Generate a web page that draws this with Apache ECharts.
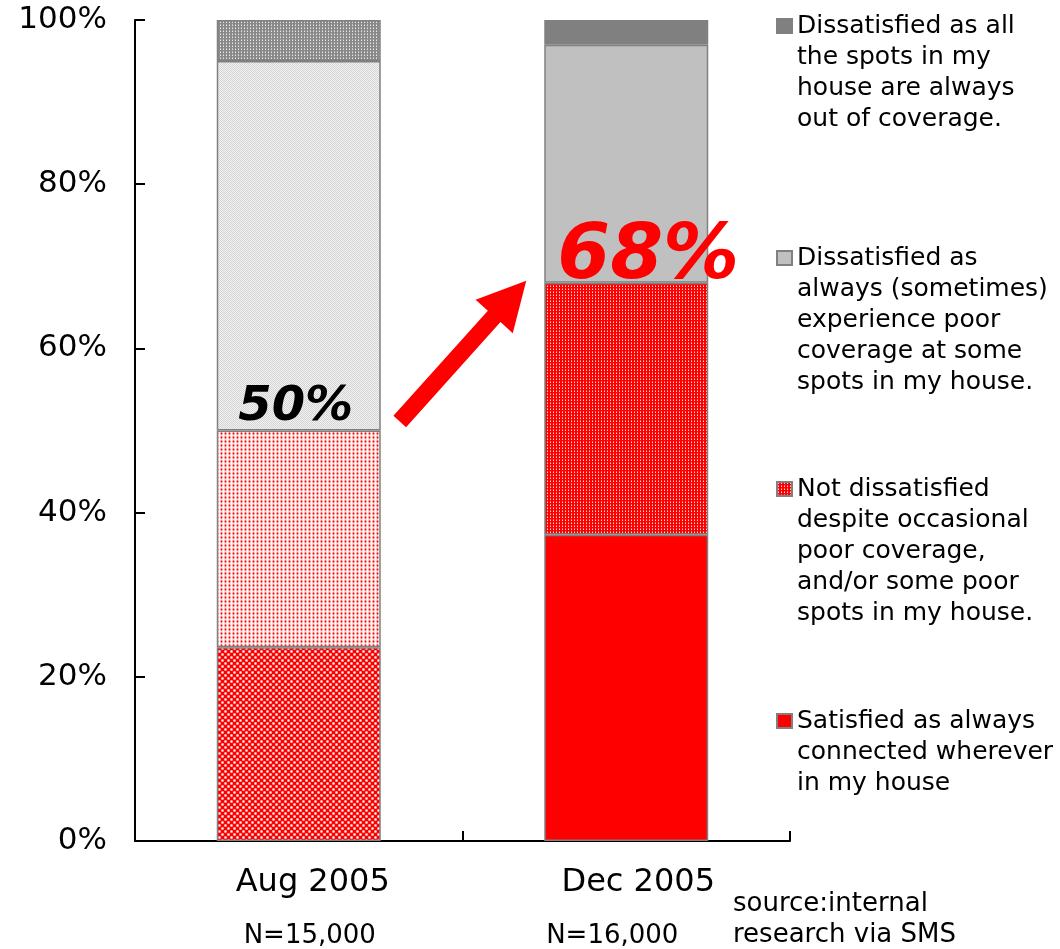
<!DOCTYPE html>
<html>
<head>
<meta charset="utf-8">
<script src="https://cdn.jsdelivr.net/npm/echarts@6/dist/echarts.min.js"></script>
<style>
  html, body { margin: 0; padding: 0; background: #ffffff; }
  #chart { width: 1060px; height: 949px; }
</style>
</head>
<body>
<div id="chart"></div>
<script>
// Survey periods and sample sizes
const periods = ['Aug 2005', 'Dec 2005'];
const sampleSizes = ['N=15,000', 'N=16,000'];

// Share of respondents (%), stacked bottom to top
const satisfied       = [23.6, 37.3];
const notDissatisfied = [26.4, 30.7];
const sometimesPoor   = [45.0, 29.0];
const alwaysOut       = [5.0, 3.0];

// Legend / series names
const nameSatisfied = 'Satisfied as always\nconnected wherever\nin my house';
const nameNotDiss   = 'Not dissatisfied\ndespite occasional\npoor coverage,\nand/or some poor\nspots in my house.';
const nameSometimes = 'Dissatisfied as\nalways (sometimes)\nexperience poor\ncoverage at some\nspots in my house.';
const nameAlwaysOut = 'Dissatisfied as all\nthe spots in my\nhouse are always\nout of coverage.';

const sourceNote = 'source:internal\nresearch via SMS';

const FONT = 'DejaVu Sans';

// Small repeating bitmap fills
function pattern(w, h, base, dots) {
  const c = document.createElement('canvas');
  c.width = w; c.height = h;
  const g = c.getContext('2d');
  g.fillStyle = base; g.fillRect(0, 0, w, h);
  dots.forEach(function (d) { g.fillStyle = d[2]; g.fillRect(d[0], d[1], 1, 1); });
  return { image: c, repeat: 'repeat' };
}

const fillDarkDots = pattern(3, 3, '#8a8a8a', [[1, 1, '#e8e8e8'], [1, 0, '#b4b4b4']]);
const fillLightCheck = pattern(2, 2, '#f2f2f2', [[0, 0, '#d4d4d4'], [1, 1, '#d4d4d4']]);
const fillPinkDots = pattern(4, 4, '#ffcccc', [
  [1, 1, '#ff0000'], [1, 0, '#ff6a6a'], [1, 2, '#ff7070'],
  [0, 1, '#ff9090'], [2, 1, '#ff9090'],
  [3, 0, '#ffffff'], [3, 1, '#ffeeee'], [3, 2, '#ffffff'], [3, 3, '#ffffff'],
  [0, 3, '#ffe8e8'], [2, 3, '#ffe8e8']
]);
const fillRedHatch = pattern(6, 6, '#ff0000', [
  [0, 0, '#ffffff'], [3, 3, '#ffffff'],
  [1, 0, '#ffa8a8'], [5, 0, '#ffa8a8'], [0, 1, '#ffa8a8'], [0, 5, '#ffa8a8'],
  [2, 3, '#ffa8a8'], [4, 3, '#ffa8a8'], [3, 2, '#ffa8a8'], [3, 4, '#ffa8a8'],
  [1, 1, '#ff6060'], [5, 5, '#ff6060'], [1, 5, '#ff6060'], [5, 1, '#ff6060'],
  [2, 2, '#ff6060'], [4, 4, '#ff6060'], [2, 4, '#ff6060'], [4, 2, '#ff6060']
]);
const fillRedDots = pattern(3, 3, '#ff0000', [[1, 1, '#ffd6d6'], [1, 0, '#ff7070']]);

// Cumulative share of the two non-dissatisfied groups
const cumulative = periods.map(function (_, i) {
  return Math.round((satisfied[i] + notDissatisfied[i]) * 10) / 10;
});

const BAR_W = 164;
const border = { borderColor: '#808080', borderWidth: 1.5 };

function barSeries(name, values, seriesColor, augFill) {
  return {
    name: name,
    type: 'bar',
    stack: 'total',
    barWidth: BAR_W,
    itemStyle: Object.assign({ color: seriesColor }, border),
    data: values.map(function (v, i) {
      const item = { value: v };
      if (i === 0) item.itemStyle = { color: augFill };
      return item;
    })
  };
}

const sometimesSeries = barSeries(nameSometimes, sometimesPoor, '#c0c0c0', fillLightCheck);
sometimesSeries.data[0].label = {
  show: true, position: 'insideBottom', distance: 0, offset: [-3, -1],
  formatter: function () { return Math.round(cumulative[0]) + '%'; },
  fontFamily: FONT, fontSize: 48, fontWeight: 'bold', fontStyle: 'italic',
  color: '#000000', lineHeight: 44
};
sometimesSeries.data[1].label = {
  show: true, position: 'insideBottom', distance: 0, offset: [22, 6],
  formatter: function () { return Math.round(cumulative[1]) + '%'; },
  fontFamily: FONT, fontSize: 76, fontWeight: 'bold', fontStyle: 'italic',
  color: '#ff0000', lineHeight: 60
};

// Legend entries, top to bottom, with the centre of each marker
const legendEntries = [
  { name: nameAlwaysOut, y: 26 },
  { name: nameSometimes, y: 258 },
  { name: nameNotDiss, y: 489 },
  { name: nameSatisfied, y: 721 }
];
const LINE_H = 31;
const legends = legendEntries.map(function (e) {
  const n = e.name.split('\n').length;
  return {
    data: [e.name],
    orient: 'vertical',
    left: 776,
    top: e.y - (2 * n - 1) * LINE_H / 2,
    padding: 0,
    itemGap: 0,
    itemWidth: 15,
    itemHeight: 14,
    icon: 'rect',
    selectedMode: false,
    // a spacer line above the text keeps the marker level with the first line
    formatter: function (name) {
      return '{s| }\n' + name.split('\n').map(function (l) { return '{t|' + l + '}'; }).join('\n');
    },
    textStyle: {
      fontFamily: FONT, fontSize: 25, lineHeight: LINE_H, color: '#000000',
      rich: {
        s: { fontSize: 8, lineHeight: (n - 1) * LINE_H },
        t: { fontFamily: FONT, fontSize: 25, lineHeight: LINE_H, color: '#000000' }
      }
    }
  };
});

const chart = echarts.init(document.getElementById('chart'), null, { renderer: 'canvas' });

const option = {
  animation: false,
  backgroundColor: '#ffffff',
  title: {
    text: sourceNote,
    left: 733,
    top: 889,
    padding: 0,
    textStyle: { fontFamily: FONT, fontSize: 26, fontWeight: 'normal', lineHeight: 31, color: '#000000' }
  },
  legend: legends,
  grid: { left: 135, right: 270, top: 20, bottom: 108, containLabel: false },
  xAxis: {
    type: 'category',
    data: periods,
    axisLine: { lineStyle: { color: '#000000', width: 2 } },
    axisTick: { show: true, inside: true, length: 10, lineStyle: { color: '#000000', width: 2 } },
    axisLabel: {
      margin: 22,
      interval: 0,
      formatter: function (v, i) {
        return '{a' + i + '|' + v + '}\n{n' + i + '|' + sampleSizes[i] + '}';
      },
      rich: {
        a0: { fontFamily: FONT, fontSize: 32, lineHeight: 40, color: '#000', padding: [0, 0, 0, 28] },
        n0: { fontFamily: FONT, fontSize: 26, lineHeight: 66, color: '#000', padding: [0, 0, 0, 22] },
        a1: { fontFamily: FONT, fontSize: 32, lineHeight: 40, color: '#000', padding: [0, 0, 0, 24] },
        n1: { fontFamily: FONT, fontSize: 26, lineHeight: 66, color: '#000', padding: [0, 28, 0, 0] }
      }
    }
  },
  yAxis: {
    type: 'value',
    min: 0,
    max: 100,
    interval: 20,
    axisLine: { show: true, lineStyle: { color: '#000000', width: 2 } },
    axisTick: { show: true, inside: true, length: 10, lineStyle: { color: '#000000', width: 2 } },
    splitLine: { show: false },
    axisLabel: { formatter: '{value}%', margin: 28, fontFamily: FONT, fontSize: 31, color: '#000000' }
  },
  series: [
    barSeries(nameSatisfied, satisfied, '#ff0000', fillRedHatch),
    barSeries(nameNotDiss, notDissatisfied, fillRedDots, fillPinkDots),
    sometimesSeries,
    barSeries(nameAlwaysOut, alwaysOut, '#808080', fillDarkDots)
  ]
};

chart.setOption(option);

// Red arrow from the Aug share to the Dec share
const finder = { xAxisIndex: 0, yAxisIndex: 0 };
const pA = chart.convertToPixel(finder, [periods[0], cumulative[0]]);
const pD = chart.convertToPixel(finder, [periods[1], cumulative[1]]);
const tail = [pA[0] + BAR_W / 2 + 19, pA[1] - 9];
const tip = [pD[0] - BAR_W / 2 - 18, pD[1] - 2];
const dx = tip[0] - tail[0], dy = tip[1] - tail[1];
const len = Math.sqrt(dx * dx + dy * dy);
const ux = dx / len, uy = dy / len;
const nx = -uy, ny = ux;
const shaftHalf = 8.5, headHalf = 25, headLen = 48;
const base = [tip[0] - ux * headLen, tip[1] - uy * headLen];
const pts = [
  [tail[0] + nx * shaftHalf, tail[1] + ny * shaftHalf],
  [base[0] + nx * shaftHalf, base[1] + ny * shaftHalf],
  [base[0] + nx * headHalf, base[1] + ny * headHalf],
  tip,
  [base[0] - nx * headHalf, base[1] - ny * headHalf],
  [base[0] - nx * shaftHalf, base[1] - ny * shaftHalf],
  [tail[0] - nx * shaftHalf, tail[1] - ny * shaftHalf]
];
chart.setOption({
  graphic: [{ type: 'polygon', z: 20, shape: { points: pts }, style: { fill: '#ff0000' } }]
});
</script>
</body>
</html>
